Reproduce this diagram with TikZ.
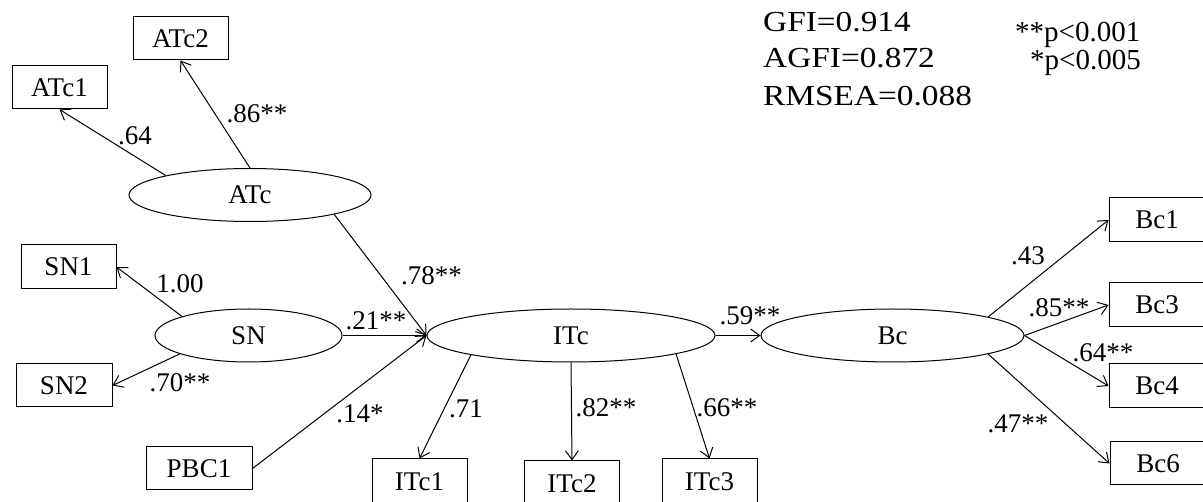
\documentclass[tikz,border=0pt]{standalone}
\usepackage{fontspec}
\setmainfont{Liberation Serif}
\newfontfamily\widefont[FakeStretch=1.15]{Liberation Serif}
\usetikzlibrary{shapes.geometric,arrows.meta}
\begin{document}
\begin{tikzpicture}[x=1pt,y=-1pt,
  every node/.style={font=\fontsize{27}{32}\selectfont},
  obs/.style={draw,line width=1pt,rectangle,inner sep=0pt,minimum width=95pt,minimum height=43pt},
  lat/.style={draw,line width=1pt,ellipse,inner sep=0pt,minimum height=53pt},
  path/.style={draw,line width=1pt,-{Straight Barb[length=9pt,width=13pt,line width=1pt]}},
  coef/.style={anchor=base,inner sep=0pt},
  fit/.style={anchor=base west,inner sep=0pt,font=\widefont\fontsize{29}{34}\selectfont},
  key/.style={anchor=base west,inner sep=0pt,font=\fontsize{29}{34}\selectfont}]
\useasboundingbox (0,0) rectangle (1203,502);
\clip (0,0) rectangle (1203,502);

% latent constructs
\node[lat,minimum width=242pt] (ATc) at (250,195) {ATc};
\node[lat,minimum width=187pt] (SN)  at (248.5,335.5) {SN};
\node[lat,minimum width=288pt] (ITc) at (571,335.5) {ITc};
\node[lat,minimum width=263pt] (Bc)  at (892.5,335.5) {Bc};

% observed indicators
\node[obs] (ATc1) at (59.5,87.5) {ATc1};
\node[obs] (ATc2) at (180.5,38.5) {ATc2};
\node[obs,minimum height=44pt] (SN1) at (68.5,267) {SN1};
\node[obs,minimum width=96pt] (SN2) at (64,385.5) {SN2};
\node[obs,minimum width=106pt] (PBC1) at (199,468.5) {PBC1};
\node[obs,minimum height=46pt] (ITc1) at (419.5,482) {ITc1};
\node[obs,minimum height=46pt] (ITc2) at (572,484) {ITc2};
\node[obs,minimum height=46pt] (ITc3) at (709.5,482) {ITc3};
\node[obs,minimum width=96pt,minimum height=44pt] (Bc1) at (1157,220) {Bc1};
\node[obs,minimum width=96pt,minimum height=44pt] (Bc3) at (1157,305) {Bc3};
\node[obs,minimum width=96pt,minimum height=44pt] (Bc4) at (1157,386) {Bc4};
\node[obs,minimum width=96pt] (Bc6) at (1158,463.5) {Bc6};

% paths
\path[path] (ATc.167) -- (ATc1.south);
\path[path] (ATc.north) -- (ATc2.south);
\path[path] (ATc.-13) -- (ITc.west);
\path[path] (SN.164.5) -- (SN1.east);
\path[path] (SN.195.5) -- (SN2.east);
\path[path] (SN.east) -- (ITc.west);
\path[path] (PBC1.east) -- (ITc.west);
\path[path] (ITc.191.1) -- (ITc1.north);
\path[path] (ITc.south) -- (ITc2.north);
\path[path] (ITc.-10.8) -- (ITc3.north);
\path[path] (ITc.east) -- (Bc.west);
\path[path] (Bc.11.8) -- (Bc1.west);
\path[path] (Bc.east) -- (Bc3.west);
\path[path] (Bc.east) -- (Bc4.west);
\path[path] (Bc.-11.8) -- (Bc6.west);

% coefficients
\node[coef] (cATc1) at (135,145) {.64};
\node[coef] (cATc2) at (257,123) {.86**};
\node[coef] (cATcITc) at (431.5,285) {.78**};
\node[coef] (cSNITc) at (376,330) {.21**};
\node[coef] (cSN1) at (180,293) {1.00};
\node[coef] (cSN2) at (180,392) {.70**};
\node[coef] (cPBC) at (360,423) {.14*};
\node[coef] (cITc1) at (466,418) {.71};
\node[coef] (cITc2) at (606,417) {.82**};
\node[coef] (cITc3) at (727,417) {.66**};
\node[coef] (cITcBc) at (750,325) {.59**};
\node[coef] (cBc1) at (1028,265) {.43};
\node[coef] (cBc3) at (1059,317) {.85**};
\node[coef] (cBc4) at (1103,362) {.64**};
\node[coef] (cBc6) at (1018,433) {.47**};

% fit indices and significance key
\node[fit] (gfi) at (763,32) {GFI=0.914};
\node[fit] (agfi) at (763,68) {AGFI=0.872};
\node[fit] (rmsea) at (763,106) {RMSEA=0.088};
\node[key] (p1) at (1015,42) {**p<0.001};
\node[key] (p2) at (1030,70) {*p<0.005};
\end{tikzpicture}
\end{document}
